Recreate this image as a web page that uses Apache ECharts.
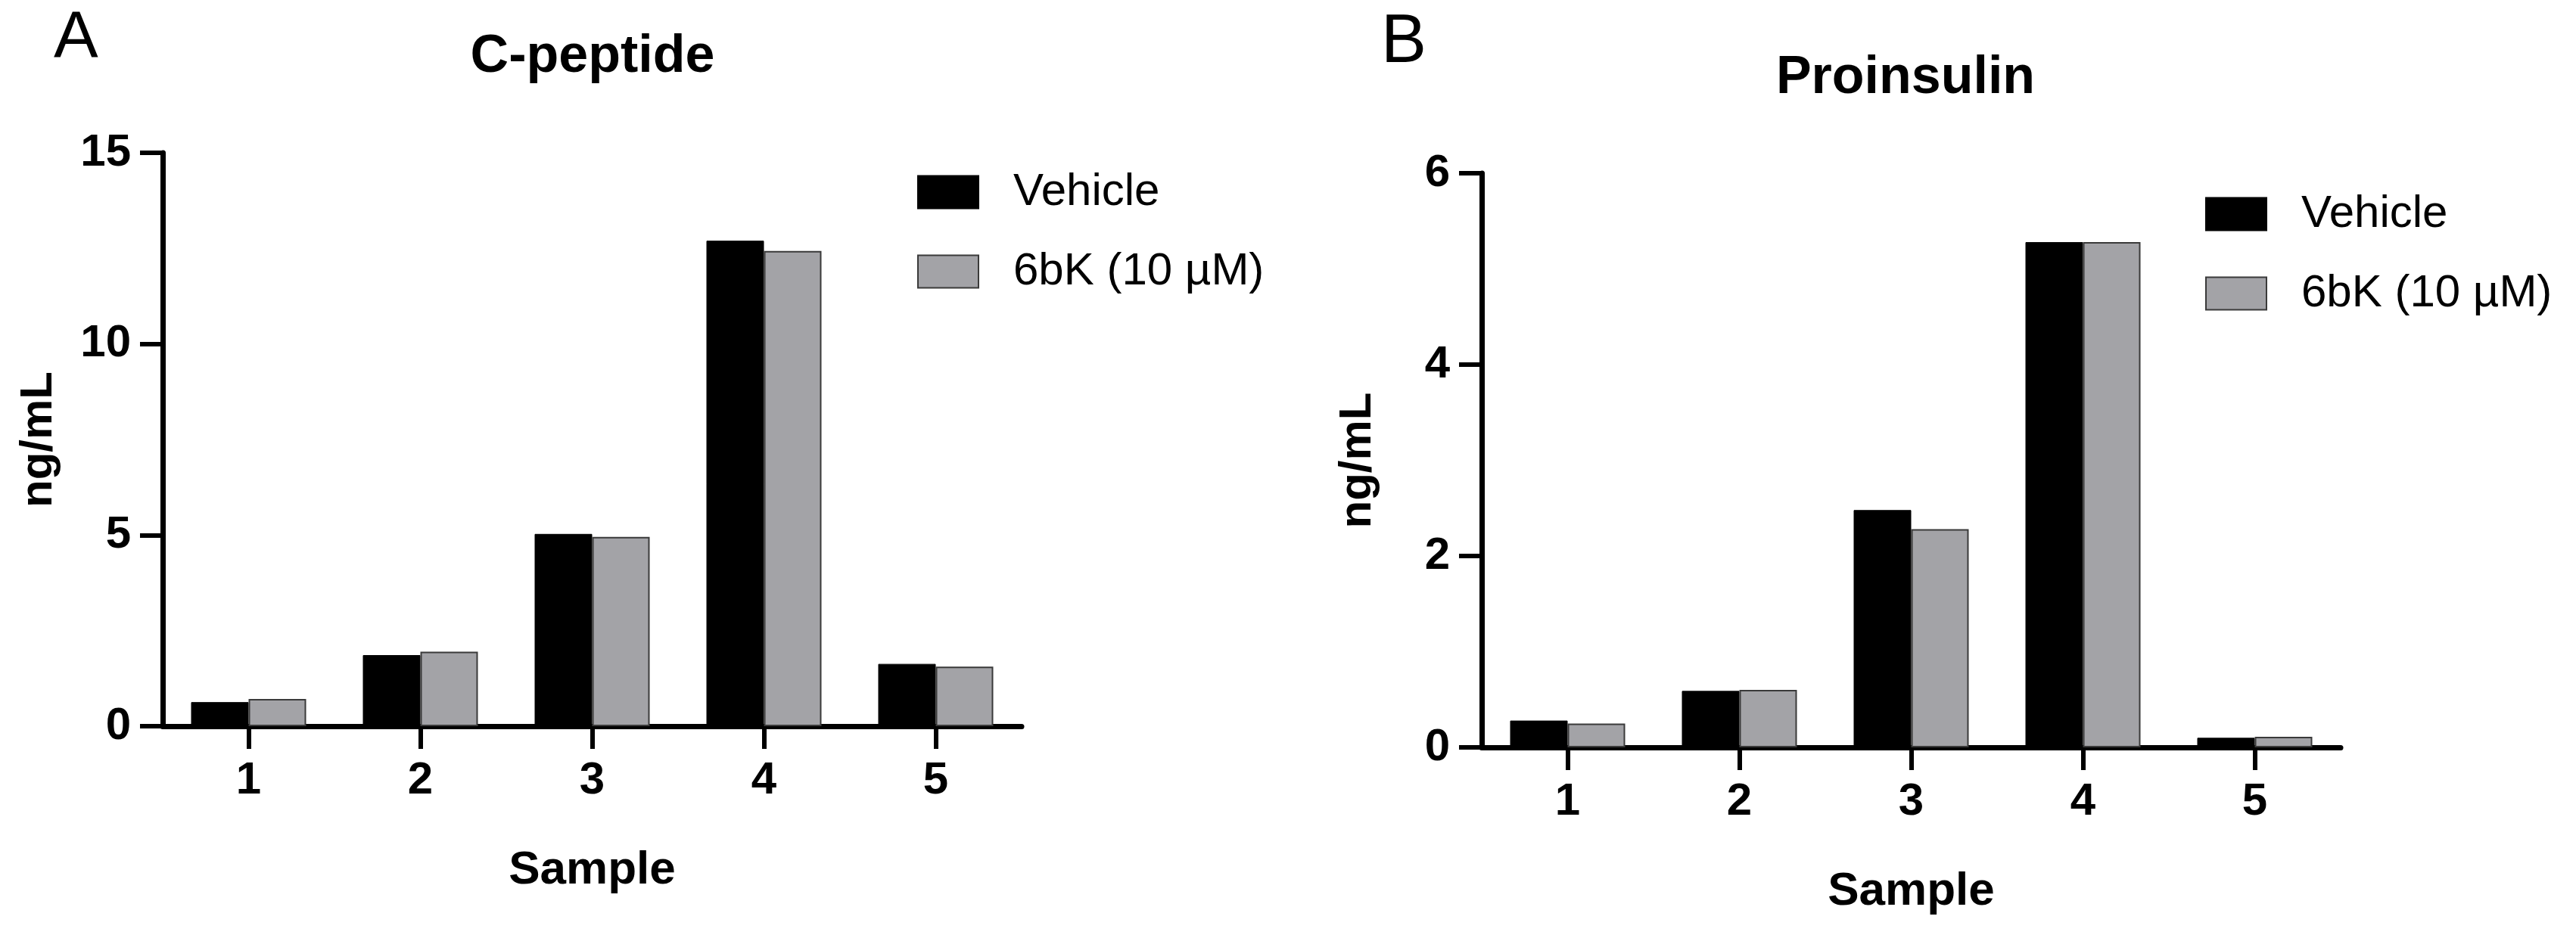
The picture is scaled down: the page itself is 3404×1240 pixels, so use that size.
<!DOCTYPE html>
<html>
<head>
<meta charset="utf-8">
<script src="https://cdn.jsdelivr.net/npm/echarts@6/dist/echarts.min.js"></script>
<style>
  html, body { margin: 0; padding: 0; background: #fff; }
  #chart { width: 3404px; height: 1240px; }
</style>
</head>
<body>
<div id="chart"></div>
<script>
// ---- data ----
const categories = ['1', '2', '3', '4', '5'];
const seriesNames = ['Vehicle', '6bK (10 \u00B5M)'];
const cPeptideVehicle = [0.63, 1.86, 5.03, 12.70, 1.63];
const cPeptide6bK = [0.71, 1.95, 4.95, 12.43, 1.56];
const proinsulinVehicle = [0.28, 0.59, 2.48, 5.28, 0.10];
const proinsulin6bK = [0.25, 0.60, 2.28, 5.28, 0.11];
const cPeptideYTicks = [0, 5, 10, 15];
const proinsulinYTicks = [0, 2, 4, 6];
const panelLabels = ['A', 'B'];
const panelTitles = ['C-peptide', 'Proinsulin'];
const xAxisTitle = 'Sample';
const yAxisTitle = 'ng/mL';

// ---- styles ----
const FONT = "'Liberation Sans', Arial, Helvetica, sans-serif";
const BLACK = '#000000';
const GRAY = '#a3a3a7';

const chart = echarts.init(document.getElementById('chart'), null, { renderer: 'canvas' });

function tickRange(ticks) {
  return { min: ticks[0], max: ticks[ticks.length - 1], interval: ticks[1] - ticks[0] };
}

function xAxisDef(gridIndex) {
  return {
    type: 'category',
    gridIndex: gridIndex,
    data: categories,
    boundaryGap: true,
    name: xAxisTitle,
    nameLocation: 'middle',
    nameGap: 160,
    nameTextStyle: { fontFamily: FONT, fontWeight: 'bold', fontSize: 62, color: '#000' },
    axisLine: { show: true, onZero: true, lineStyle: { color: '#000', width: 7 } },
    axisTick: { show: true, alignWithLabel: true, length: 30, lineStyle: { color: '#000', width: 6 } },
    axisLabel: { fontFamily: FONT, fontWeight: 'bold', fontSize: 60, color: '#000', margin: 42 },
    splitLine: { show: false }
  };
}

function yAxisDef(gridIndex, ticks) {
  const r = tickRange(ticks);
  return {
    type: 'value',
    gridIndex: gridIndex,
    min: r.min,
    max: r.max,
    interval: r.interval,
    name: yAxisTitle,
    nameLocation: 'middle',
    nameGap: 134,
    nameRotate: 90,
    nameTextStyle: { fontFamily: FONT, fontWeight: 'bold', fontSize: 60, color: '#000' },
    axisLine: { show: true, lineStyle: { color: '#000', width: 7 } },
    axisTick: { show: true, length: 30, lineStyle: { color: '#000', width: 6 } },
    axisLabel: { fontFamily: FONT, fontWeight: 'bold', fontSize: 60, color: '#000', margin: 42 },
    splitLine: { show: false }
  };
}

function barSeries(name, data, idx, color, border, bw) {
  return {
    type: 'bar',
    name: name,
    xAxisIndex: idx,
    yAxisIndex: idx,
    data: data,
    barWidth: 76,
    barGap: '0%',
    itemStyle: { color: color, borderColor: border, borderWidth: bw },
    emphasis: { disabled: true }
  };
}

function legendDef(left, top) {
  return {
    data: seriesNames,
    orient: 'vertical',
    left: left,
    top: top,
    padding: 0,
    itemWidth: 80,
    itemHeight: 43,
    itemGap: 45,
    icon: 'rect',
    selectedMode: false,
    textStyle: { fontFamily: FONT, fontSize: 60, color: '#000', lineHeight: 60, padding: [0, 0, 0, 41] }
  };
}

const option = {
  backgroundColor: '#ffffff',
  animation: false,
  title: [
    { text: panelLabels[0], left: 71, top: 8, padding: 0,
      textStyle: { fontFamily: FONT, fontWeight: 'normal', fontSize: 88, color: '#000' } },
    { text: panelTitles[0], left: 783, top: 41, padding: 0, textAlign: 'center',
      textStyle: { fontFamily: FONT, fontWeight: 'bold', fontSize: 70, color: '#000' } },
    { text: panelLabels[1], left: 1825, top: 12, padding: 0,
      textStyle: { fontFamily: FONT, fontWeight: 'normal', fontSize: 90, color: '#000' } },
    { text: panelTitles[1], left: 2518, top: 69, padding: 0, textAlign: 'center',
      textStyle: { fontFamily: FONT, fontWeight: 'bold', fontSize: 70, color: '#000' } }
  ],
  legend: [legendDef(1212, 224), legendDef(2914, 253)],
  grid: [
    { left: 215, top: 202, width: 1135, height: 758, containLabel: false },
    { left: 1958, top: 229, width: 1135, height: 759, containLabel: false }
  ],
  xAxis: [xAxisDef(0), xAxisDef(1)],
  yAxis: [yAxisDef(0, cPeptideYTicks), yAxisDef(1, proinsulinYTicks)],
  series: [
    barSeries(seriesNames[0], cPeptideVehicle, 0, BLACK, BLACK, 1),
    barSeries(seriesNames[1], cPeptide6bK, 0, GRAY, '#3a3a3a', 2),
    barSeries(seriesNames[0], proinsulinVehicle, 1, BLACK, BLACK, 1),
    barSeries(seriesNames[1], proinsulin6bK, 1, GRAY, '#3a3a3a', 2)
  ]
};

chart.setOption(option);
</script>
</body>
</html>
